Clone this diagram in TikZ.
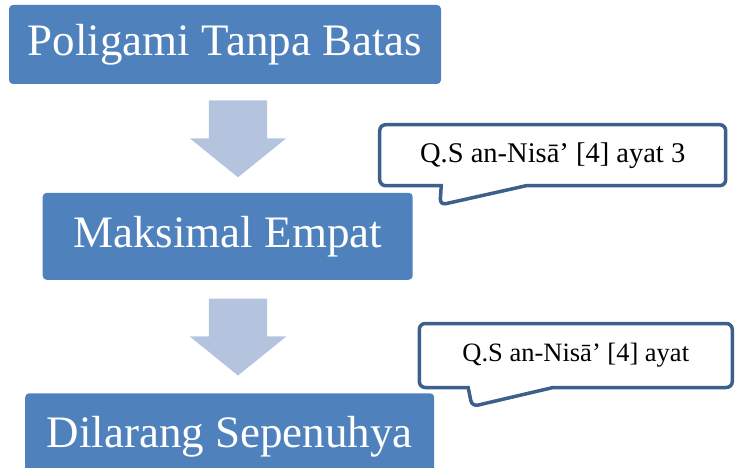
\documentclass[tikz,border=0pt]{standalone}
\usepackage{fontspec}
\setmainfont{Liberation Serif}
\usepackage{tikz}
\usetikzlibrary{positioning,shapes.arrows,shapes.callouts}
\definecolor{boxblue}{RGB}{79,129,189}
\definecolor{arrowblue}{RGB}{180,196,223}
\definecolor{lineblue}{RGB}{60,95,140}

\begin{document}
\begin{tikzpicture}[
    x=1pt, y=-1pt,
    stage/.style={rectangle, fill=boxblue, text=white, rounded corners=4pt, inner sep=0pt, font=\fontsize{45}{54}\selectfont},
    downarrow/.style={single arrow, fill=arrowblue, draw=none, rotate=-90, inner xsep=0pt, inner ysep=29pt, minimum height=77pt, single arrow head extend=19pt, single arrow tip angle=102},
    note/.style={rectangle callout, draw=lineblue, line width=3.5pt, fill=white, rounded corners=6pt, text=black, inner sep=0pt, callout pointer width=85pt},
]
\clip (0,0) rectangle (740,468);

\node[stage, minimum width=432pt, minimum height=79pt] (P) at (225,44.5) {Poligami Tanpa Batas};
\node[stage, minimum width=370pt, minimum height=87pt] (M) at (227.7,236.3) {Maksimal Empat};
\node[stage, minimum width=409pt, minimum height=87pt] (D) at (229.7,436.8) {Dilarang Sepenuhya};

\node[downarrow] (A1) at (238,127) {};
\node[downarrow] (A2) at (238,325.2) {};

\node[note, minimum width=346pt, minimum height=61pt, callout absolute pointer={(440,205)}, font=\fontsize{28.5}{34}\selectfont] (N1) at (552.7,155.2) {Q.S an-Nisā’ [4] ayat 3};
\node[note, minimum width=313pt, minimum height=64pt, callout absolute pointer={(472,406.5)}, font=\fontsize{26.5}{32}\selectfont] (N2) at (575.8,355.5) {Q.S an-Nisā’ [4] ayat};

\end{tikzpicture}
\end{document}
